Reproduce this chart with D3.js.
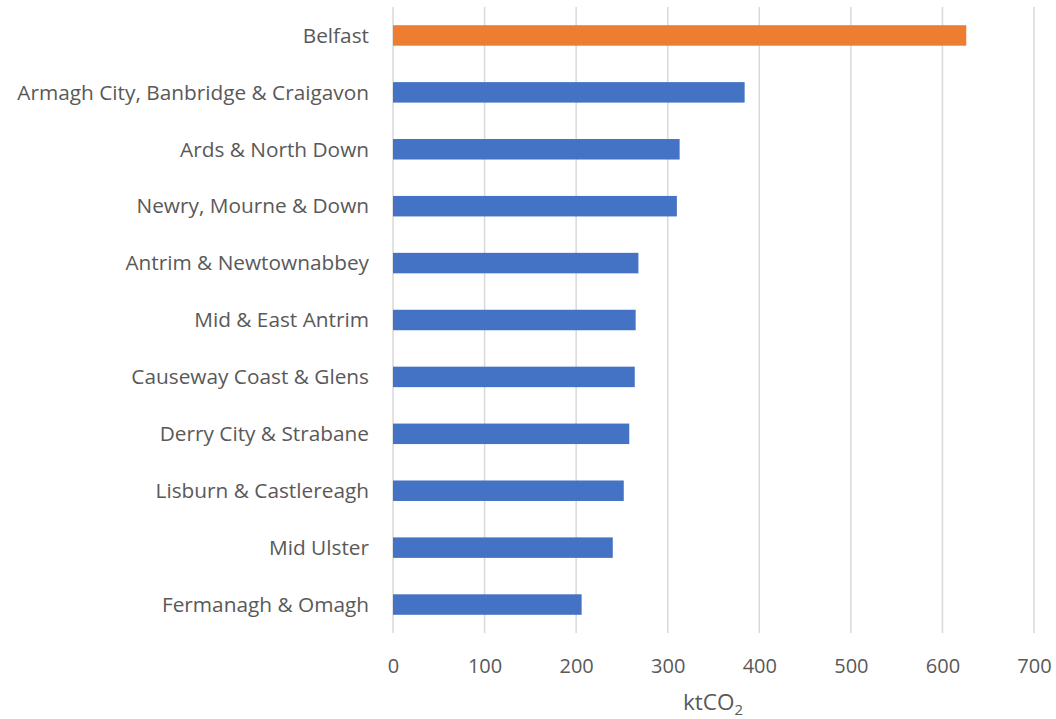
<!DOCTYPE html>
<html lang="en">
<head>
    <meta charset="UTF-8">
    <title>ktCO2 by council</title>
    <script src="https://cdnjs.cloudflare.com/ajax/libs/d3/7.8.5/d3.min.js"></script>
    <style>
        body { margin: 0; background: #fff; }
        text { font-family: "Open Sans", sans-serif; fill: #595959; }
    </style>
</head>
<body>
    <div id="chart"></div>

    <script>
        const councils = [
            "Belfast",
            "Armagh City, Banbridge & Craigavon",
            "Ards & North Down",
            "Newry, Mourne & Down",
            "Antrim & Newtownabbey",
            "Mid & East Antrim",
            "Causeway Coast & Glens",
            "Derry City & Strabane",
            "Lisburn & Castlereagh",
            "Mid Ulster",
            "Fermanagh & Omagh"
        ];
        const emissions = [626, 384, 313, 310, 268, 265, 264, 258, 252, 240, 206];
        const highlight = ["Belfast"];
        const xTicks = [0, 100, 200, 300, 400, 500, 600, 700];

        const width = 1056;
        const height = 719;
        const margin = { top: 7, right: 22, bottom: 86, left: 393 };

        const svg = d3.select("#chart")
            .append("svg")
            .attr("width", width)
            .attr("height", height);

        const x = d3.scaleLinear()
            .domain([0, 700])
            .range([margin.left, width - margin.right]);

        const y = d3.scaleBand()
            .domain(councils)
            .range([margin.top, height - margin.bottom])
            .paddingInner(0.64)
            .paddingOuter(0.32);

        // gridlines
        svg.append("g")
            .selectAll("line")
            .data(xTicks)
            .enter()
            .append("line")
            .attr("x1", d => x(d))
            .attr("x2", d => x(d))
            .attr("y1", margin.top)
            .attr("y2", height - margin.bottom)
            .attr("stroke", "#d9d9d9")
            .attr("stroke-width", 1.5);

        // bars
        svg.append("g")
            .selectAll("rect")
            .data(councils)
            .enter()
            .append("rect")
            .attr("x", x(0))
            .attr("y", d => y(d))
            .attr("width", (d, i) => x(emissions[i]) - x(0))
            .attr("height", y.bandwidth())
            .attr("fill", d => highlight.includes(d) ? "#ED7D31" : "#4472C4");

        // category labels
        svg.append("g")
            .selectAll("text")
            .data(councils)
            .enter()
            .append("text")
            .attr("x", margin.left - 24)
            .attr("y", d => y(d) + y.bandwidth() / 2)
            .attr("dy", "0.35em")
            .attr("text-anchor", "end")
            .attr("font-size", 20.8)
            .text(d => d);

        // x axis tick labels
        const xAxis = d3.axisBottom(x)
            .tickValues(xTicks)
            .tickSize(0)
            .tickPadding(0);

        const axisG = svg.append("g")
            .attr("transform", `translate(0,${height - margin.bottom})`)
            .call(xAxis);
        axisG.select(".domain").remove();
        axisG.selectAll("text")
            .attr("dy", null)
            .attr("y", 40)
            .attr("font-size", 20)
            .attr("fill", "#595959")
            .style("font-family", "'Open Sans', sans-serif");

        // axis title with subscript
        const title = svg.append("text")
            .attr("x", 683)
            .attr("y", 710)
            .attr("font-size", 22.5);
        title.append("tspan").text("ktCO");
        title.append("tspan")
            .attr("font-size", 15)
            .attr("dy", 5)
            .text("2");
    </script>
</body>
</html>
